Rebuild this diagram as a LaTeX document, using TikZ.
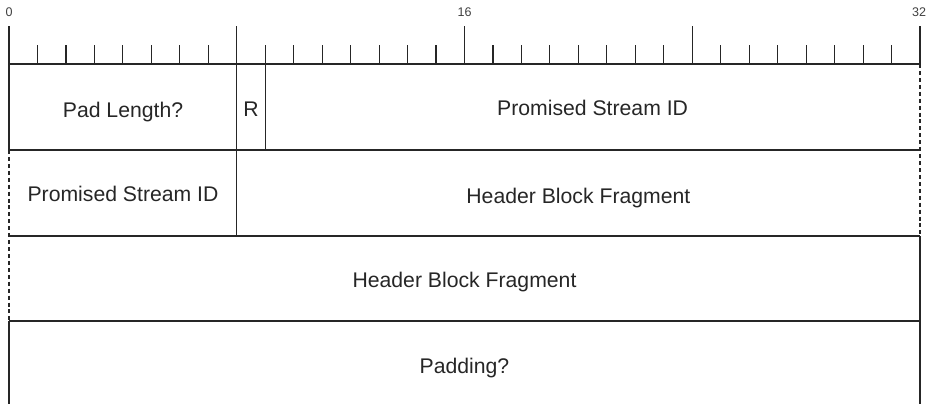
\documentclass[tikz,border=0pt]{standalone}
\usepackage{fontspec}
\setmainfont{Liberation Sans}
\begin{document}
\begin{tikzpicture}[x=0.75pt,y=-0.75pt,
  ln/.style={draw=black!85, line width=0.85pt},
  dsh/.style={ln, dash pattern=on 3pt off 2.2pt},
  lbl/.style={text=black!85, font=\fontsize{15.9}{18}\selectfont, inner sep=0pt, anchor=base},
  num/.style={text=black!75, font=\fontsize{9.4}{11}\selectfont, inner sep=0pt}]
\useasboundingbox (0,0) rectangle (926,404);
\def\u{28.46875}
% ruler
\foreach \b in {0,...,32}{
  \pgfmathsetmacro\xx{9+\b*\u}
  \pgfmathtruncatemacro\m{mod(\b,8)}
  \ifnum\m=0
    \draw[ln] (\xx,26) -- (\xx,64);
  \else
    \draw[ln] (\xx,45) -- (\xx,64);
  \fi
}
\node[num] (n0) at (9,11.7) {0};
\node[num] (n16) at ({9+16*\u},11.7) {16};
\node[num] (n32) at (919,11.7) {32};
% horizontal lines
\foreach \yy in {64,150,236,321}{
  \draw[ln] (9,\yy) -- (920,\yy);
}
% borders
\draw[ln] (9,64) -- (9,150);
\draw[dsh] (9,150) -- (9,321);
\draw[ln] (9,321) -- (9,404);
\draw[dsh] (920,64) -- (920,236);
\draw[ln] (920,236) -- (920,404);
% dividers
\draw[ln] ({9+8*\u},64) -- ({9+8*\u},236);
\draw[ln] ({9+9*\u},64) -- ({9+9*\u},150);
% labels
\node[lbl] (padlen) at (123,117) {Pad Length?};
\node[lbl] (r) at ({9+8.5*\u},116) {R};
\node[lbl] (psid1) at ({(9+9*\u+920)/2},115) {Promised Stream ID};
\node[lbl] (psid2) at (123,201) {Promised Stream ID};
\node[lbl] (hbf1) at ({(9+8*\u+920)/2},203) {Header Block Fragment};
\node[lbl] (hbf2) at (464.5,287.5) {Header Block Fragment};
\node[lbl] (pad) at (464.5,373) {Padding?};
\end{tikzpicture}
\end{document}
